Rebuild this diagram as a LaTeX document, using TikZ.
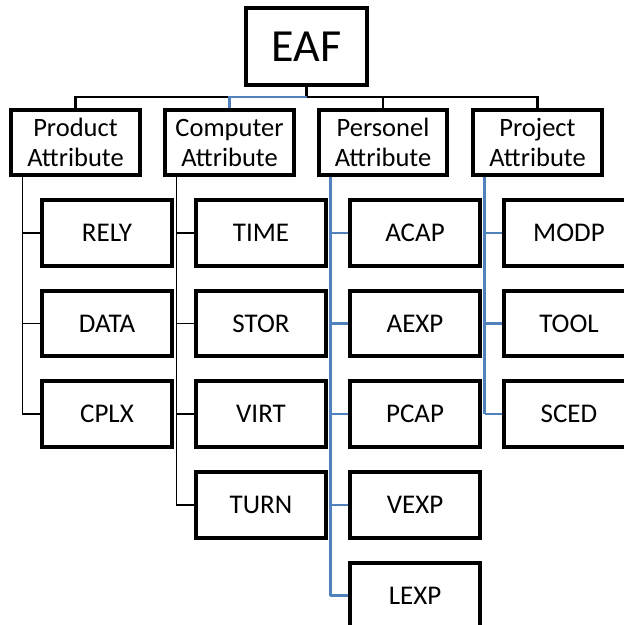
\documentclass[tikz,border=0pt]{standalone}
\usepackage{fontspec}
\setmainfont{Carlito}
\definecolor{lnblue}{RGB}{79,129,189}
\begin{document}
\begin{tikzpicture}[x=1pt,y=-1pt,
  box/.style={draw=black,line width=2.8pt,fill=white,inner sep=0pt,align=center},
  top/.style={box,minimum width=119pt,minimum height=75pt,font=\fontsize{46}{50}\selectfont},
  cat/.style={box,minimum width=127pt,minimum height=63pt,font=\fontsize{26.5}{30}\selectfont},
  leaf/.style={box,minimum width=128pt,minimum height=64pt,font=\fontsize{27}{30}\selectfont},
  bus/.style={line width=2.5pt,black},
  busblue/.style={line width=2.5pt,lnblue},
  thin/.style={line width=1.6pt,black},
  bluetrunk/.style={line width=3pt,lnblue},
  blueln/.style={line width=2.2pt,lnblue}]
\clip (0,0) rectangle (624,625);
\fill[white] (0,0) rectangle (624,625);
\coordinate (b) at (306.5,97);
\coordinate (bc) at (229.5,97);
% nodes
\node[top] (eaf) at (306.5,46.5) {EAF};
\node[cat] (prod) at (75.5,142.5) {Product\\Attribute};
\node[cat] (comp) at (229.5,142.5) {Computer\\Attribute};
\node[cat] (pers) at (383,142.5) {Personel\\Attribute};
\node[cat] (proj) at (537.5,142.5) {Project\\Attribute};
\node[leaf] (rely) at (107,233) {RELY};
\node[leaf] (data) at (107,323.5) {DATA};
\node[leaf] (cplx) at (107,414) {CPLX};
\node[leaf] (time) at (261,233) {TIME};
\node[leaf] (stor) at (261,323.5) {STOR};
\node[leaf] (virt) at (261,414) {VIRT};
\node[leaf] (turn) at (261,505) {TURN};
\node[leaf] (acap) at (415,233) {ACAP};
\node[leaf] (aexp) at (415,323.5) {AEXP};
\node[leaf] (pcap) at (415,414) {PCAP};
\node[leaf] (vexp) at (415,505) {VEXP};
\node[leaf] (lexp) at (415,595.5) {LEXP};
\node[leaf] (modp) at (569,233) {MODP};
\node[leaf] (tool) at (569,323.5) {TOOL};
\node[leaf] (sced) at (569,414) {SCED};
% top bus
\draw[bus] (eaf.south) -- (b);
\draw[bus] (prod.north) |- (bc);
\draw[busblue] (comp.north) |- (b);
\draw[bus] (b) -| (pers.north);
\draw[bus] (pers.north |- b) -| (proj.north);
% trunks
\coordinate (ps) at ([xshift=12pt]prod.south west);
\coordinate (cs) at ([xshift=12pt]comp.south west);
\coordinate (es) at ([xshift=12pt]pers.south west);
\coordinate (js) at ([xshift=12pt]proj.south west);
\draw[thin] (ps) |- (cplx.west);
\draw[thin] (ps |- rely.west) -- (rely.west);
\draw[thin] (ps |- data.west) -- (data.west);
\draw[thin] (cs) |- (turn.west);
\draw[thin] (cs |- time.west) -- (time.west);
\draw[thin] (cs |- stor.west) -- (stor.west);
\draw[thin] (cs |- virt.west) -- (virt.west);
\draw[bluetrunk] (es) -- (es |- lexp.west);
\draw[blueln] (es |- lexp.west) -- (lexp.west);
\draw[blueln] (es |- acap.west) -- (acap.west);
\draw[blueln] (es |- aexp.west) -- (aexp.west);
\draw[blueln] (es |- pcap.west) -- (pcap.west);
\draw[blueln] (es |- vexp.west) -- (vexp.west);
\draw[bluetrunk] (js) -- (js |- sced.west);
\draw[blueln] (js |- sced.west) -- (sced.west);
\draw[blueln] (js |- modp.west) -- (modp.west);
\draw[blueln] (js |- tool.west) -- (tool.west);
% box borders on top of connectors
\foreach \n in {eaf,prod,comp,pers,proj,rely,data,cplx,time,stor,virt,turn,acap,aexp,pcap,vexp,lexp,modp,tool,sced}
  \draw[line width=2.8pt] (\n.south west) rectangle (\n.north east);
\end{tikzpicture}
\end{document}
